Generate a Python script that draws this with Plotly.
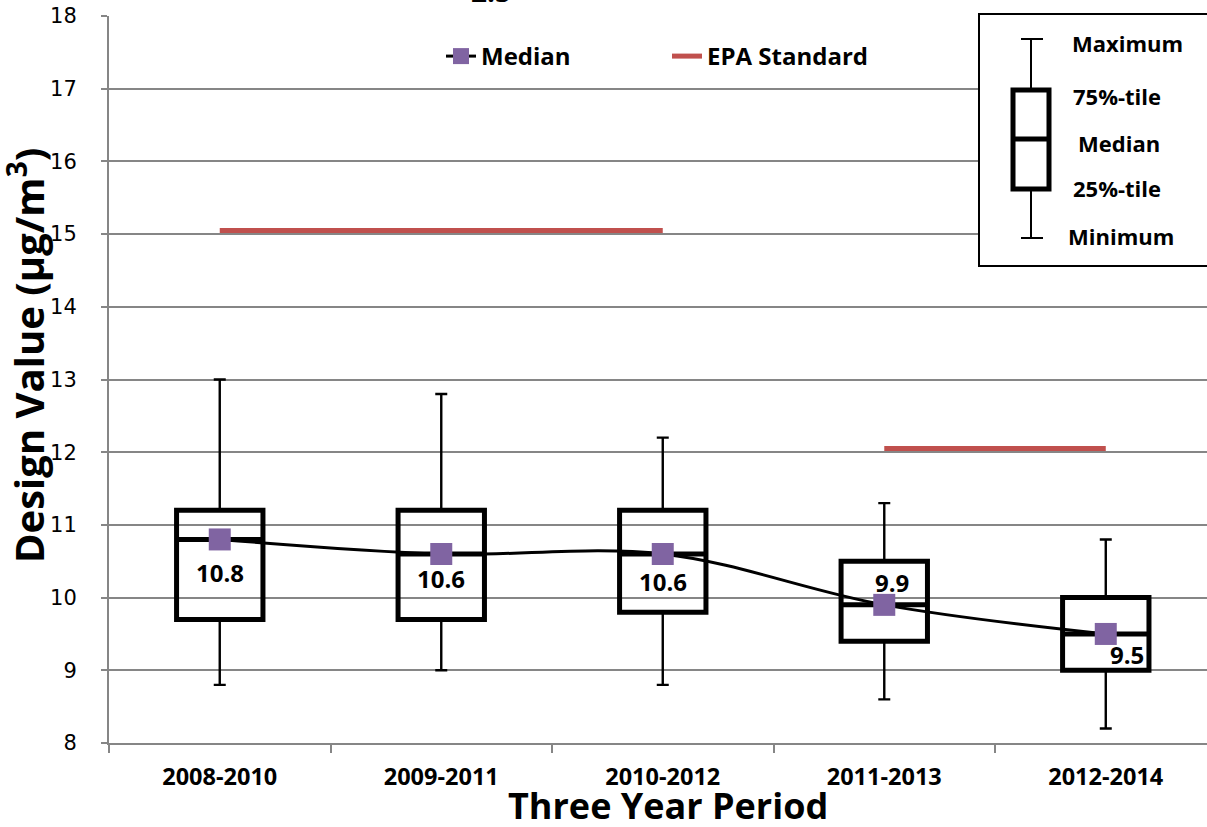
import plotly.graph_objects as go

# ---------------- data ----------------
periods = ["2008-2010", "2009-2011", "2010-2012", "2011-2013", "2012-2014"]
minimum = [8.8, 9.0, 8.8, 8.6, 8.2]
q1 = [9.7, 9.7, 9.8, 9.4, 9.0]
median = [10.8, 10.6, 10.6, 9.9, 9.5]
q3 = [11.2, 11.2, 11.2, 10.5, 10.0]
maximum = [13.0, 12.8, 12.2, 11.3, 10.8]

epa_periods_a = ["2008-2010", "2009-2011", "2010-2012"]
epa_values_a = [15.05, 15.05, 15.05]
epa_periods_b = ["2011-2013", "2012-2014"]
epa_values_b = [12.05, 12.05]

y_ticks = [8, 9, 10, 11, 12, 13, 14, 15, 16, 17, 18]
key_labels = ["Maximum", "75%-tile", "Median", "25%-tile", "Minimum"]

# ---------------- styles ----------------
FONT = "Open Sans"
PURPLE = "#8064A2"
RED = "#C0504D"
GRID = "#868686"
label_dx = [0, 0, 0, 8, 21]
label_dy = [-33, -25, -28, 22, -21]

# plot area in pixels
PL, PR, PT, PB = 109, 1207, 16, 743


def xp(px):
    return (px - PL) / (PR - PL)


def yp(py):
    return (PB - py) / (PB - PT)


fig = go.Figure()

# whiskers (thin) drawn as error bars from the box edges
fig.add_trace(go.Scatter(
    x=periods, y=q3, mode="markers",
    marker=dict(color="rgba(0,0,0,0)", size=1),
    error_y=dict(type="data", symmetric=False,
                 array=[m - u for m, u in zip(maximum, q3)],
                 arrayminus=[0] * len(q3),
                 color="black", thickness=2.4, width=6),
    showlegend=False, hoverinfo="skip"))
fig.add_trace(go.Scatter(
    x=periods, y=q1, mode="markers",
    marker=dict(color="rgba(0,0,0,0)", size=1),
    error_y=dict(type="data", symmetric=False,
                 array=[0] * len(q1),
                 arrayminus=[l - m for l, m in zip(q1, minimum)],
                 color="black", thickness=2.4, width=6),
    showlegend=False, hoverinfo="skip"))

# boxes (thick)
fig.add_trace(go.Box(
    x=periods, q1=q1, median=median, q3=q3,
    lowerfence=q1, upperfence=q3,
    width=0.39, boxpoints=False,
    line=dict(color="black", width=5),
    fillcolor="rgba(0,0,0,0)",
    showlegend=False, hoverinfo="skip"))

# EPA standard
fig.add_trace(go.Scatter(
    x=epa_periods_a, y=epa_values_a, mode="lines",
    line=dict(color=RED, width=5),
    name="EPA Standard", legendrank=2))
fig.add_trace(go.Scatter(
    x=epa_periods_b, y=epa_values_b, mode="lines",
    line=dict(color=RED, width=5),
    name="EPA Standard", showlegend=False))

# median line
fig.add_trace(go.Scatter(
    x=periods, y=median, mode="lines+markers",
    line=dict(color="black", width=3, shape="spline"),
    marker=dict(symbol="square", size=22, color=PURPLE),
    name="Median", legendrank=1))

annotations = []
for i, (p, v) in enumerate(zip(periods, median)):
    annotations.append(dict(
        x=p, y=v, xref="x", yref="y", text=f"<b>{v}</b>", showarrow=False,
        xshift=label_dx[i], yshift=label_dy[i],
        font=dict(family=FONT, size=24, color="black")))

# axis titles
annotations.append(dict(
    x=xp(27), y=yp(356), xref="paper", yref="paper", textangle=-90,
    text="<b>Design Value (μg/m<sup>3</sup>)</b>", showarrow=False,
    xanchor="center", yanchor="middle",
    font=dict(family=FONT, size=40, color="black")))
annotations.append(dict(
    x=xp(668), y=yp(806), xref="paper", yref="paper",
    text="<b>Three Year Period</b>", showarrow=False,
    xanchor="center", yanchor="middle",
    font=dict(family=FONT, size=36, color="black")))
# cut-off title fragment at the top
annotations.append(dict(
    x=xp(491), y=yp(12), xref="paper", yref="paper",
    text="<b>2.5</b>", showarrow=False, xanchor="center", yanchor="bottom",
    font=dict(family=FONT, size=28, color="black")))

# key inset labels
key_y = [43, 96, 143, 188, 236]
key_x = [1127, 1117, 1119, 1117, 1121]
for t, kx, ky in zip(key_labels, key_x, key_y):
    annotations.append(dict(
        x=xp(kx), y=yp(ky), xref="paper", yref="paper",
        text=f"<b>{t}</b>", showarrow=False, xanchor="center", yanchor="middle",
        font=dict(family=FONT, size=22, color="black")))

shapes = [
    dict(type="rect", xref="paper", yref="paper", layer="above",
         x0=xp(979), x1=xp(1216), y0=yp(266), y1=yp(14),
         fillcolor="white", line=dict(color="black", width=2)),
    dict(type="line", xref="paper", yref="paper", layer="above",
         x0=xp(1031), x1=xp(1031), y0=yp(238), y1=yp(39),
         line=dict(color="black", width=2)),
    dict(type="line", xref="paper", yref="paper", layer="above",
         x0=xp(1021), x1=xp(1043), y0=yp(39), y1=yp(39),
         line=dict(color="black", width=2)),
    dict(type="line", xref="paper", yref="paper", layer="above",
         x0=xp(1021), x1=xp(1043), y0=yp(238), y1=yp(238),
         line=dict(color="black", width=2)),
    dict(type="rect", xref="paper", yref="paper", layer="above",
         x0=xp(1013), x1=xp(1049), y0=yp(189), y1=yp(90),
         fillcolor="white", line=dict(color="black", width=5)),
    dict(type="line", xref="paper", yref="paper", layer="above",
         x0=xp(1013), x1=xp(1049), y0=yp(139), y1=yp(139),
         line=dict(color="black", width=5)),
]

fig.update_layout(
    width=1207, height=827,
    margin=dict(l=PL, r=1207 - PR, t=PT, b=827 - PB, pad=0),
    plot_bgcolor="white", paper_bgcolor="white",
    boxmode="overlay",
    showlegend=True,
    legend=dict(orientation="h", x=xp(441), y=yp(34), xanchor="left", yanchor="top",
                font=dict(family=FONT, size=24, color="black", weight="bold"),
                bgcolor="rgba(0,0,0,0)", entrywidth=181, traceorder="normal"),
    xaxis=dict(type="category", range=[-0.5, 4.457],
               showline=True, linecolor=GRID, linewidth=2,
               ticks="outside", tickson="boundaries", ticklen=8,
               tickcolor=GRID, tickwidth=1.5, showgrid=False,
               tickfont=dict(family=FONT, size=23.5, color="black", weight="bold"),
               ticklabelstandoff=12),
    yaxis=dict(range=[8, 18], tickvals=y_ticks,
               showgrid=True, gridcolor=GRID, gridwidth=1.5,
               showline=True, linecolor=GRID, linewidth=2, zeroline=False,
               ticks="outside", ticklen=6, tickcolor=GRID, tickwidth=1.5,
               tickfont=dict(family="DejaVu Sans", size=21, color="black"),
               ticklabelstandoff=20),
    annotations=annotations,
    shapes=shapes,
)

fig.write_html("out.html", config={"displayModeBar": False},
               post_script="document.body.style.margin='0px';")
